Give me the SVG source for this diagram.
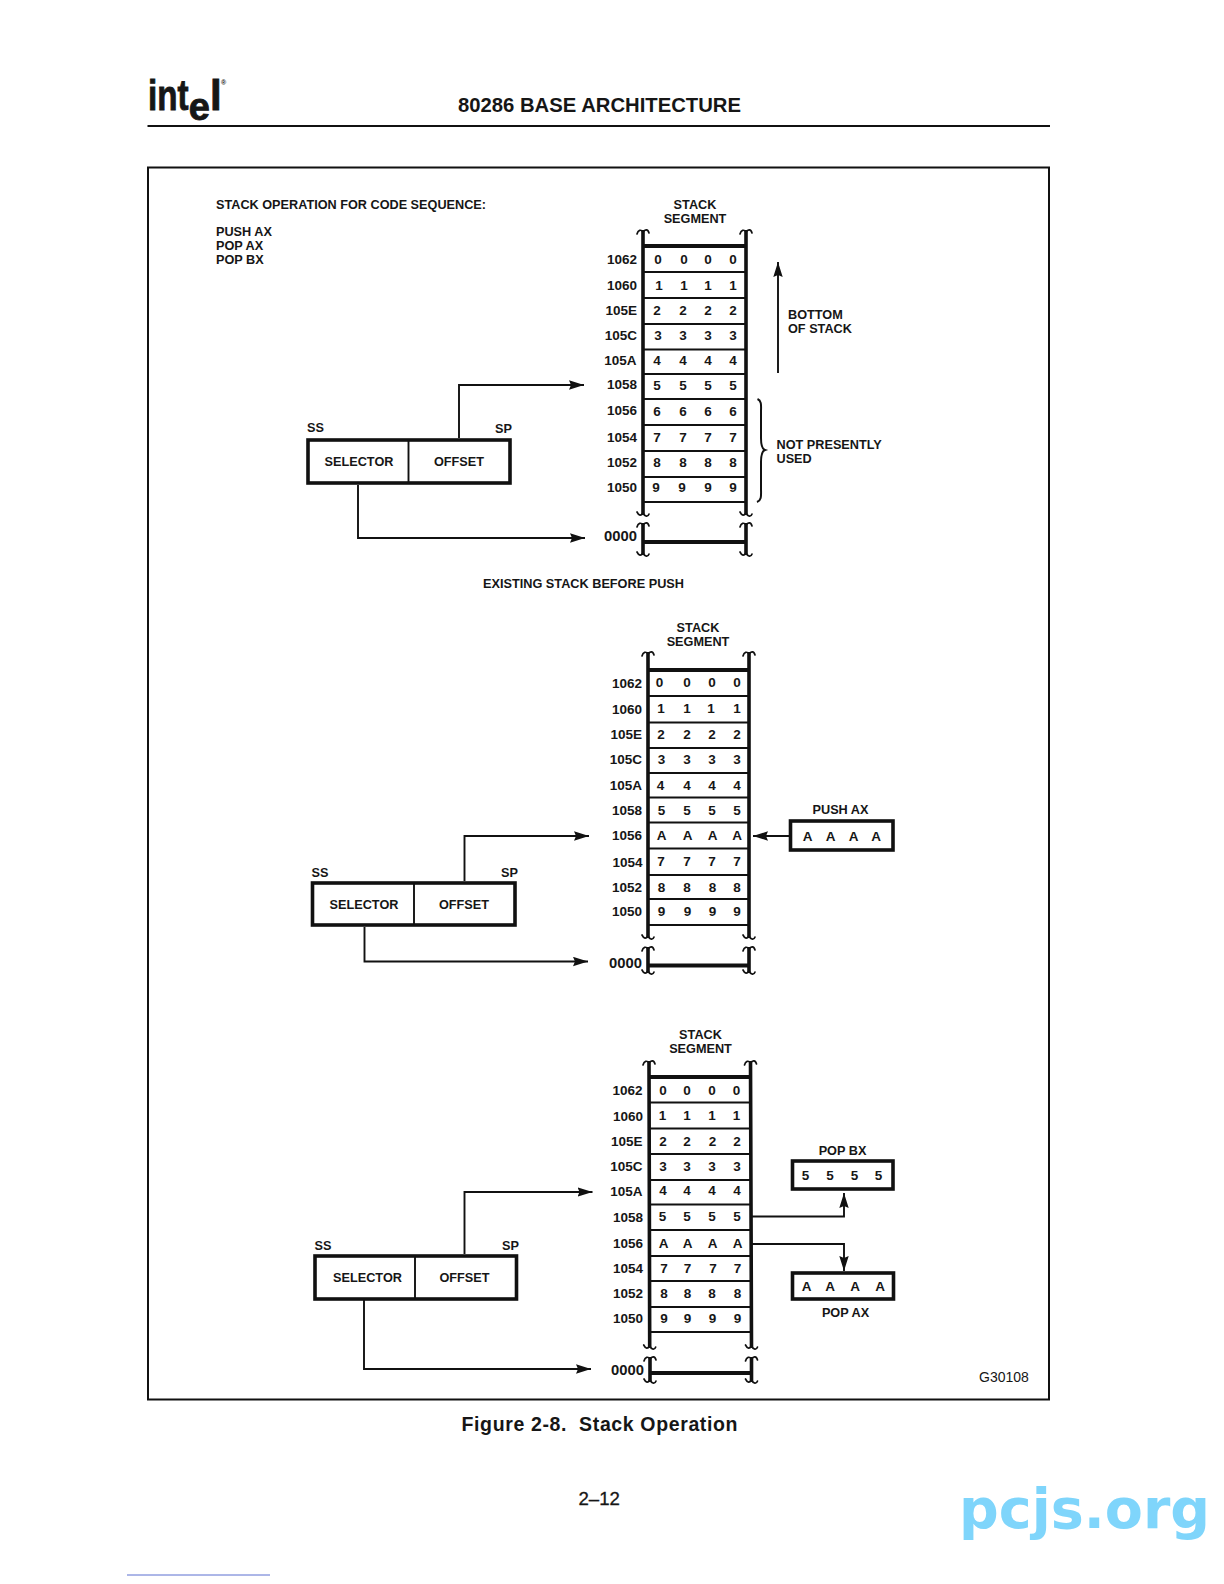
<svg xmlns="http://www.w3.org/2000/svg" width="1224" height="1584" viewBox="0 0 1224 1584">
<style>
text{font-family:"Liberation Sans",Arial,sans-serif;font-weight:700;font-size:12.700px;fill:#161616}
text[x*=" "],g[id^=stack] .l{font-size:13.500px}
g[id^=stack] text{transform:translate(0,-.7px)}
.l{text-anchor:end}
.m{text-anchor:middle}
.w{fill:none;stroke:#111;stroke-linecap:butt}
.rail{stroke-width:3.6}
.row{stroke-width:1.9}
.thick{stroke-width:4}
.box{fill:#fff;stroke:#111;stroke-width:3.6}
.sq{fill:none;stroke:#111;stroke-width:1.7;stroke-linecap:round}
.c{fill:none;stroke:#111;stroke-width:1.9}
.logo{stroke:#161616;stroke-width:.9}
g[id^=stack] .z{font-size:14.800px}
</style>
<defs>
<path id="st" class="sq" d="M-6 4C-5 0-2-1 0 2C2-1 5-1 6 3"/>
<path id="sb" class="sq" d="M-6-3C-4 1-2 1 0-2C2 2 5 2 6-1"/>
<marker id="ah" markerUnits="userSpaceOnUse" markerWidth="16" markerHeight="10" refX="15" refY="5" orient="auto"><path d="M0 .3L15 5L0 9.700L2 5Z" fill="#111"/></marker>
</defs>
<rect width="1224" height="1584" fill="#fff"/>
<g id="header">
<text class="logo" x="148" y="110" textLength="40.500" lengthAdjust="spacingAndGlyphs" style="font-size:42px">int</text>
<text class="logo" x="188.800" y="120" style="font-size:38px">e</text>
<text class="logo" x="210" y="110" style="font-size:42px">l</text>
<text x="221" y="85" style="font-size:7px">®</text>
<text x="458" y="112" textLength="283" lengthAdjust="spacingAndGlyphs" style="font-size:20px">80286 BASE ARCHITECTURE</text>
<path d="M147.500 126H1050" class="w" style="stroke-width:2"/>
</g>
<rect id="frame" x="148" y="167.500" width="901" height="1232" fill="none" stroke="#111" stroke-width="2"/>
<g id="code-sequence">
<text x="216" y="209" textLength="270" lengthAdjust="spacingAndGlyphs">STACK OPERATION FOR CODE SEQUENCE:</text>
<text x="216" y="236">PUSH AX</text>
<text x="216" y="250">POP AX</text>
<text x="216" y="264">POP BX</text>
</g>

<g id="stack-1">
<text class="m" x="695" y="209.700">STACK</text><text class="m" x="695" y="223.700">SEGMENT</text>
<path class="w rail" d="M643 230V515M746 230V515M643 523V555M746 523V555"/>
<use href="#st" x="643" y="230"/><use href="#st" x="746" y="230"/><use href="#sb" x="643" y="515"/><use href="#sb" x="746" y="515"/><use href="#st" x="643" y="523"/><use href="#st" x="746" y="523"/><use href="#sb" x="643" y="555"/><use href="#sb" x="746" y="555"/>
<path class="w thick" d="M643 246H746M643 542H746"/>
<path class="w row" d="M643 272H746M643 298H746M643 324H746M643 349.500H746M643 374H746M643 399H746M643 425H746M643 451H746M643 477H746M643 502H746"/>
<text class="l" x="637" y="265">1062</text><text class="l" x="637" y="290.500">1060</text><text class="l" x="637" y="316">105E</text><text class="l" x="637" y="341">105C</text><text class="l" x="636.500" y="366">105A</text><text class="l" x="637" y="390">1058</text><text class="l" x="637" y="416">1056</text><text class="l" x="637" y="442.500">1054</text><text class="l" x="637" y="468">1052</text><text class="l" x="637" y="493">1050</text><text class="l z" x="637" y="542">0000</text>
<text class="m" x="658 671 684 696 708 720 733" y="265">0 0 0 0</text>
<text class="m" x="659 671 684 696 708 720 733" y="291">1 1 1 1</text>
<text class="m" x="657 671 683 696 708 720 733" y="316">2 2 2 2</text>
<text class="m" x="658 671 683 696 708 720 733" y="341">3 3 3 3</text>
<text class="m" x="657 671 683 696 708 720 733" y="366">4 4 4 4</text>
<text class="m" x="657 671 683 696 708 720 733" y="391">5 5 5 5</text>
<text class="m" x="657 671 683 696 708 720 733" y="417">6 6 6 6</text>
<text class="m" x="657 671 683 696 708 720 733" y="443">7 7 7 7</text>
<text class="m" x="657 671 683 696 708 720 733" y="468">8 8 8 8</text>
<text class="m" x="656 671 682 696 708 720 733" y="493">9 9 9 9</text>
</g>
<g id="register-1">
<rect class="box" x="308" y="440" width="202" height="43"/>
<path class="c" d="M408.500 440V483"/>
<text class="m" x="359" y="466">SELECTOR</text><text class="m" x="459" y="466">OFFSET</text>
<text x="307" y="431.500">SS</text><text class="l" x="512" y="432.500">SP</text>
</g>
<g id="bottom-of-stack">
<text x="788" y="319">BOTTOM</text><text x="788" y="333">OF STACK</text>
</g>
<g id="not-presently-used">
<path d="M757.500 399C762 401 761 406 761 412V438C761 445 762 449 765 450C762 451 761 455 761 462V488C761 495 762 500 757 502" fill="none" stroke="#111" stroke-width="2"/>
<text x="776.500" y="449">NOT PRESENTLY</text><text x="776.500" y="463">USED</text>
</g>
<text id="caption-1" x="483" y="588" textLength="201" lengthAdjust="spacingAndGlyphs">EXISTING STACK BEFORE PUSH</text>

<g id="stack-2">
<text class="m" x="698" y="632.700">STACK</text><text class="m" x="698" y="646.700">SEGMENT</text>
<path class="w rail" d="M648 652V938M749 652V938M648 947V973M749 947V973"/>
<use href="#st" x="648" y="652"/><use href="#st" x="749" y="652"/><use href="#sb" x="648" y="938"/><use href="#sb" x="749" y="938"/><use href="#st" x="648" y="947"/><use href="#st" x="749" y="947"/><use href="#sb" x="648" y="973"/><use href="#sb" x="749" y="973"/>
<path class="w thick" d="M648 670H749M648 965.500H749"/>
<path class="w row" d="M648 696H749M648 722.500H749M648 748H749M648 773H749M648 797.500H749M648 822.500H749M648 848.500H749M648 875H749M648 899H749M648 925H749"/>
<text class="l" x="642" y="688.500">1062</text><text class="l" x="642" y="714.500">1060</text><text class="l" x="642" y="740">105E</text><text class="l" x="642" y="765">105C</text><text class="l" x="642" y="790.500">105A</text><text class="l" x="642" y="815.500">1058</text><text class="l" x="642" y="841">1056</text><text class="l" x="642.500" y="868">1054</text><text class="l" x="642" y="893">1052</text><text class="l" x="642" y="917">1050</text><text class="l z" x="642" y="968.500">0000</text>
<text class="m" x="659.500 674 687 700 712 724 737" y="688">0 0 0 0</text>
<text class="m" x="661 674 687 700 711 724 737" y="714">1 1 1 1</text>
<text class="m" x="661 674 687 700 712 724 737" y="740">2 2 2 2</text>
<text class="m" x="661.500 674 687 700 712 724 737" y="765">3 3 3 3</text>
<text class="m" x="660.500 674 687 700 712 724 737" y="790.500">4 4 4 4</text>
<text class="m" x="661.500 674 687 700 712 724 737" y="815.500">5 5 5 5</text>
<text class="m" x="661.500 674 687.500 700 712.500 724 737" y="841">A A A A</text>
<text class="m" x="661 674 687 700 712 724 737" y="867">7 7 7 7</text>
<text class="m" x="661.500 674 687 700 712.500 724 737" y="893">8 8 8 8</text>
<text class="m" x="661.500 674 687.500 700 712.500 724 737" y="917">9 9 9 9</text>
</g>
<g id="register-2">
<rect class="box" x="312.500" y="883" width="202.500" height="42"/>
<path class="c" d="M414 883V925"/>
<text class="m" x="364" y="908.500">SELECTOR</text><text class="m" x="464" y="909">OFFSET</text>
<text x="311.500" y="876.500">SS</text><text class="l" x="518" y="876.500">SP</text>
</g>
<g id="push-ax">
<text class="m" x="840.500" y="813.500">PUSH AX</text>
<rect class="box" x="790.500" y="821" width="102.500" height="29"/>
<text class="m" x="807.500 819 830.500 842 853.500 865 876" y="840.500">A A A A</text>
</g>

<g id="stack-3">
<text class="m" x="700.500" y="1039.700">STACK</text><text class="m" x="700.500" y="1053.700">SEGMENT</text>
<path class="w rail" d="M649 1061L649.700 1348M750.500 1061L751.500 1348M650 1357V1382M751.500 1357V1382"/>
<use href="#st" x="649" y="1061"/><use href="#st" x="750.500" y="1061"/><use href="#sb" x="649.700" y="1348"/><use href="#sb" x="751.500" y="1348"/><use href="#st" x="650" y="1357"/><use href="#st" x="751.500" y="1357"/><use href="#sb" x="650" y="1382"/><use href="#sb" x="751.500" y="1382"/>
<path class="w thick" d="M649 1077H751M650 1373H752"/>
<path class="w row" d="M649 1102.500H751M649 1128.500H751M649 1154H751M649 1180H751M649 1204.500H751M650 1230H751M650 1256H751M650 1281H751M650 1307H751M650 1332H752"/>
<text class="l" x="642.500" y="1096">1062</text><text class="l" x="643" y="1122">1060</text><text class="l" x="642.500" y="1147">105E</text><text class="l" x="642.500" y="1172">105C</text><text class="l" x="642.500" y="1197">105A</text><text class="l" x="643" y="1223">1058</text><text class="l" x="643" y="1249">1056</text><text class="l" x="643" y="1274">1054</text><text class="l" x="643" y="1299">1052</text><text class="l" x="643" y="1324">1050</text><text class="l z" x="644" y="1375.500">0000</text>
<text class="m" x="663 675 687 700 712 724 736.500" y="1095.500">0 0 0 0</text>
<text class="m" x="662.500 675 687 700 712 724 736.500" y="1121">1 1 1 1</text>
<text class="m" x="663 675 687 700 712.500 724 737" y="1146.500">2 2 2 2</text>
<text class="m" x="663 675 687 700 712 724 737" y="1172">3 3 3 3</text>
<text class="m" x="663 675 687 700 712 724 737" y="1196">4 4 4 4</text>
<text class="m" x="662.500 675 687 700 712 724 737" y="1222">5 5 5 5</text>
<text class="m" x="663.500 675 687.500 700 712.500 724 737.500" y="1249">A A A A</text>
<text class="m" x="664 675 687.500 700 713 724 737.500" y="1274">7 7 7 7</text>
<text class="m" x="664 675 687.500 700 712 724 737.500" y="1299">8 8 8 8</text>
<text class="m" x="664 675 687.500 700 712.500 724 737.500" y="1324">9 9 9 9</text>
</g>
<g id="register-3">
<rect class="box" x="315" y="1256" width="201.500" height="43"/>
<path class="c" d="M415 1256V1299"/>
<text class="m" x="367.500" y="1282">SELECTOR</text><text class="m" x="464.500" y="1282">OFFSET</text>
<text x="314.500" y="1250">SS</text><text class="l" x="519" y="1250">SP</text>
</g>
<g id="pop-bx">
<text class="m" x="842.500" y="1154.500">POP BX</text>
<rect class="box" x="792.500" y="1161" width="100.500" height="28"/>
<text class="m" x="805.500 818 830 842 854.500 866 878.500" y="1180">5 5 5 5</text>
</g>
<g id="pop-ax">
<rect class="box" x="792.500" y="1273" width="101" height="26"/>
<text class="m" x="806.500 818 830 842 855 867 880" y="1291">A A A A</text>
<text class="m" x="845.500" y="1317">POP AX</text>
</g>
<text id="code" x="979" y="1381.500" style="font-weight:400;font-size:14px">G30108</text>

<g id="connectors">
<path class="c" d="M459 438V385H584" marker-end="url(#ah)"/>
<path class="c" d="M358 485V538H585" marker-end="url(#ah)"/>
<path class="c" d="M778 373V262" marker-end="url(#ah)"/>
<path class="c" d="M464.500 881V836H589" marker-end="url(#ah)"/>
<path class="c" d="M364.500 927V961.500H588" marker-end="url(#ah)"/>
<path class="c" d="M789 836H753" marker-end="url(#ah)"/>
<path class="c" d="M464.500 1254V1192H592.500" marker-end="url(#ah)"/>
<path class="c" d="M364 1300V1369H591" marker-end="url(#ah)"/>
<path class="c" d="M752 1216.500H844V1193" marker-end="url(#ah)"/>
<path class="c" d="M752 1244H844V1271" marker-end="url(#ah)"/>
</g>
<g id="footer">
<text x="461.500" y="1431" textLength="276" lengthAdjust="spacing" xml:space="preserve" style="font-size:19.500px">Figure 2-8.  Stack Operation</text>
<text x="578.500" y="1505" textLength="41.500" lengthAdjust="spacingAndGlyphs" style="font-size:19px;font-weight:400;stroke:#161616;stroke-width:.3">2–12</text>
<text x="959" y="1528" textLength="251" lengthAdjust="spacingAndGlyphs" style="font-family:'DejaVu Sans',sans-serif;font-size:56px;fill:#7fd5fb">pcjs.org</text>
<path d="M127 1575H270" stroke="#5a6fd0" stroke-width="1"/>
</g>
</svg>
